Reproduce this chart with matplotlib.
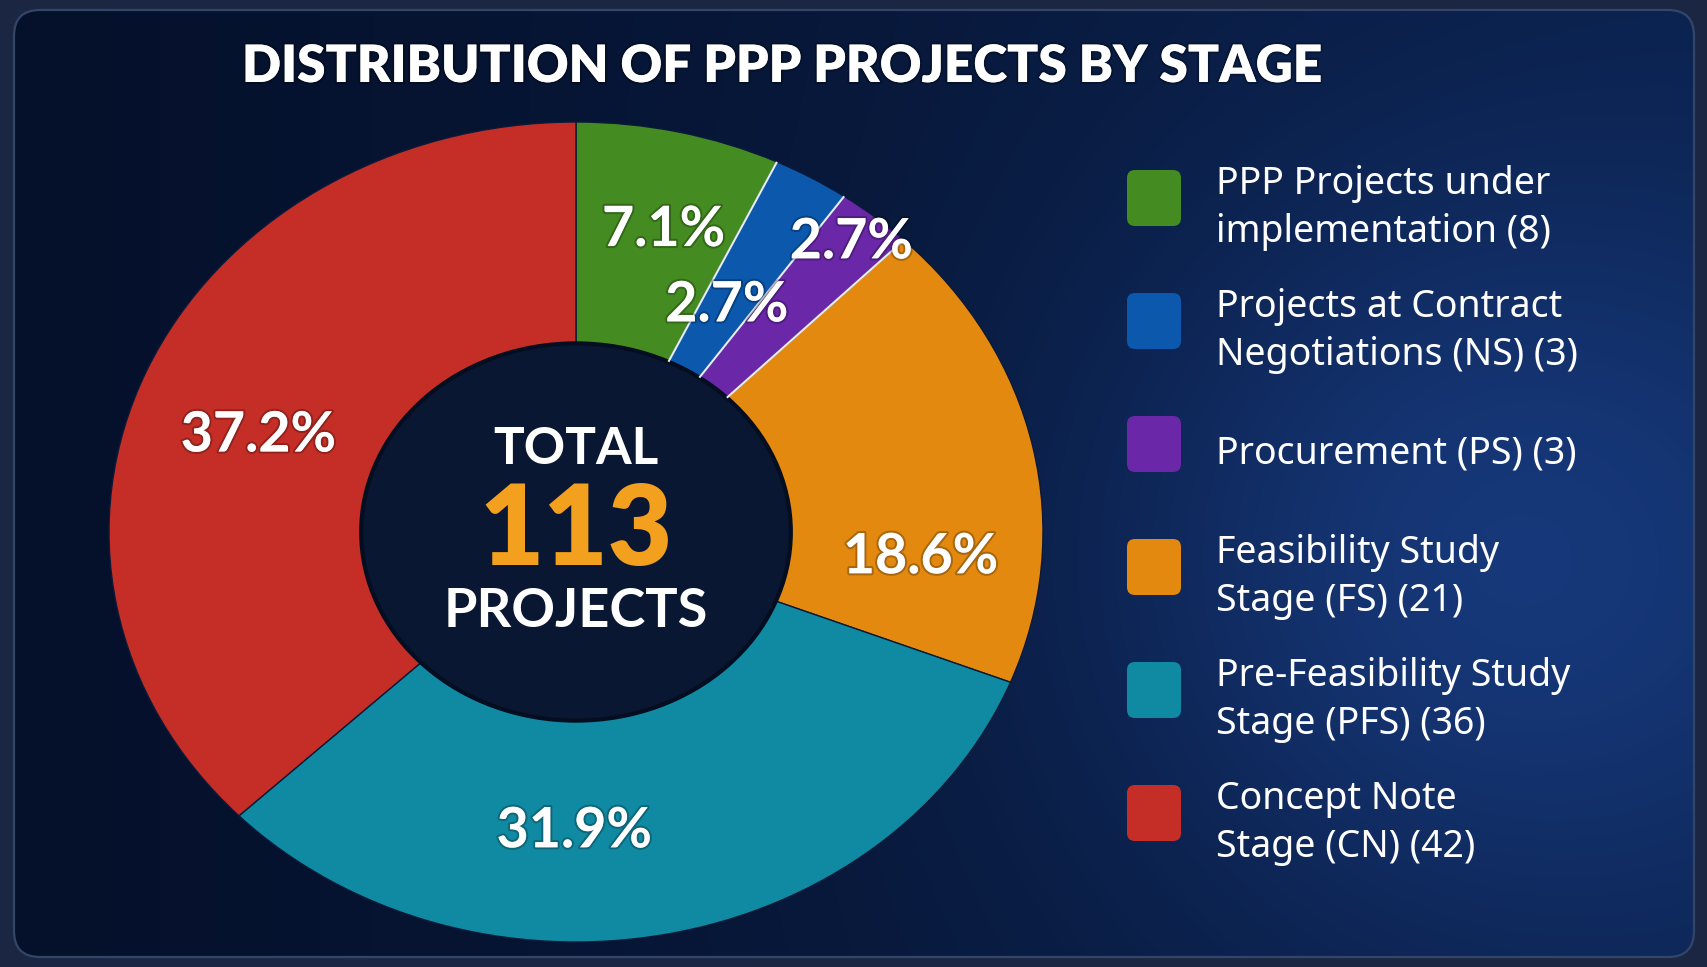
import numpy as np
import matplotlib
matplotlib.use("Agg")
import matplotlib.pyplot as plt
import matplotlib.patheffects as pe
from matplotlib.patches import FancyBboxPatch, Ellipse

# ---------------- data ----------------
stages = ["PPP Projects under\nimplementation",
          "Projects at Contract\nNegotiations (NS)",
          "Procurement (PS)",
          "Feasibility Study\nStage (FS)",
          "Pre-Feasibility Study\nStage (PFS)",
          "Concept Note\nStage (CN)"]
counts = [8, 3, 3, 21, 36, 42]
colors = ["#448c21", "#0c58ad", "#6a27a8", "#e3890f", "#0f8aa2", "#c52e27"]
title = "DISTRIBUTION OF PPP PROJECTS BY STAGE"
center_top = "TOTAL"
center_bottom = "PROJECTS"

# ---------------- figure ----------------
W, H = 1708, 967
fig = plt.figure(figsize=(W / 100, H / 100), dpi=100)
fig.patch.set_facecolor("#1b2742")

bg = fig.add_axes([0, 0, 1, 1])
bg.set_xlim(0, W)
bg.set_ylim(H, 0)
bg.axis("off")
yy, xx = np.mgrid[0:H, 0:W].astype(float)
c_left = np.array([5, 16, 42]) / 255
c_right = np.array([10, 32, 74]) / 255
t = (xx / W)[..., None]
img = c_left * (1 - t) + c_right * t
glow = np.exp(-(((xx - 1500) / 430) ** 2 + ((yy - 560) / 400) ** 2))
img = img + glow[..., None] * np.array([0.05, 0.10, 0.20])
img = np.clip(img, 0, 1)
im = bg.imshow(img, extent=(0, W, H, 0), zorder=0, interpolation="bilinear")
card = FancyBboxPatch((14, 10), W - 28, H - 20, boxstyle="round,pad=0,rounding_size=26",
                      facecolor="none", edgecolor="#34456a", lw=1.6, zorder=2)
bg.add_patch(card)
im.set_clip_path(card)

shadow = [pe.withStroke(linewidth=3, foreground=(0, 0, 0, 0.25))]

# title
fig.text(242 / W, 1 - 67 / H, title, color="white", fontsize=37, fontweight="heavy",
         family=["Lato", "DejaVu Sans"], ha="left", va="center", path_effects=shadow)

# ---------------- donut ----------------
cx, cy, rx, ry = 576, 532, 467, 410
lim = 1.2
ax = fig.add_axes([(cx - lim * rx) / W, (H - cy - lim * ry) / H,
                   2 * lim * rx / W, 2 * lim * ry / H])
ax.patch.set_alpha(0)
hole = 0.46
wedges, texts, autotexts = ax.pie(
    counts, colors=colors, startangle=90, counterclock=False, radius=1.0,
    autopct="%1.1f%%", pctdistance=0.75,
    wedgeprops=dict(width=1 - hole, edgecolor="#0b1a38", linewidth=1.0),
    textprops=dict(color="white", fontsize=40, fontweight="bold", family=["Lato", "DejaVu Sans"]))
ax.set_xlim(-lim, lim)
ax.set_ylim(-lim, lim)
ax.set_aspect("auto")
ax.axis("off")

# light separators between the small slices
for w in wedges[:3]:
    a = np.deg2rad(w.theta1)
    ax.plot([hole * np.cos(a), np.cos(a)], [hole * np.sin(a), np.sin(a)],
            color="#e6edf7", lw=1.5, solid_capstyle="butt", zorder=5)

ax.add_patch(Ellipse((0, 0), 2 * hole, 2 * hole, facecolor="#0a1733",
                     edgecolor="#050d20", lw=3, zorder=4))

# label placement: fraction along each slice (clockwise) and radial distance
label_frac = [0.56, 0.5, 0.5, 0.75, 0.6, 0.47]
label_r = [0.76, 0.64, 0.92, 0.74, 0.73, 0.72]
for w, txt, f, r in zip(wedges, autotexts, label_frac, label_r):
    ang = np.deg2rad(w.theta2 - f * (w.theta2 - w.theta1))
    txt.set_position((r * np.cos(ang), r * np.sin(ang)))
    txt.set_zorder(6)
    txt.set_ha("center")
    txt.set_va("center")
    txt.set_path_effects(shadow)

ax.text(0, 0.20, center_top, color="white", fontsize=37, fontweight="bold",
        family=["Lato", "DejaVu Sans"], ha="center", va="center", zorder=7)
ax.text(0, 0.0, f"{sum(counts)}", color="#f2a01e", fontsize=80, fontweight="heavy",
        family=["Lato", "DejaVu Sans"], ha="center", va="center", zorder=7)
ax.text(0, -0.195, center_bottom, color="white", fontsize=39, fontweight="bold",
        family=["Lato", "DejaVu Sans"], ha="center", va="center", zorder=7)

# ---------------- legend ----------------
box_x, box_w, box_h = 1127, 54, 56
text_x = 1216
row_y0, row_step = 208, 123
for i, (name, n, c) in enumerate(zip(stages, counts, colors)):
    yc = row_y0 + i * row_step
    bg.add_patch(FancyBboxPatch((box_x, yc - box_h / 2 - 10), box_w, box_h,
                                boxstyle="round,pad=0,rounding_size=8",
                                facecolor=c, edgecolor="none", zorder=3))
    bg.text(text_x, yc, f"{name} ({n})", color="white", fontsize=27,
            family=["Noto Sans", "DejaVu Sans"], ha="left", va="center",
            linespacing=1.32, zorder=3)

fig.savefig("out.png", dpi=100, facecolor=fig.get_facecolor())
